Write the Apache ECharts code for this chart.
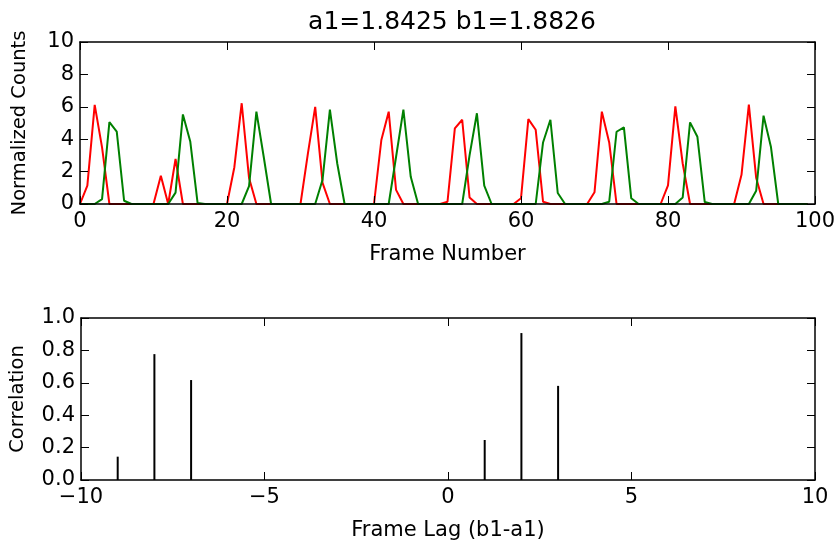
<!DOCTYPE html>
<html>
<head>
<meta charset="utf-8">
<script src="https://cdn.jsdelivr.net/npm/echarts@6/dist/echarts.min.js"></script>
<style>
html,body{margin:0;padding:0;background:#fff;}
#c{width:839px;height:546px;}
</style>
</head>
<body>
<div id="c"></div>
<script>
// ---- data ----
var titleText = 'a1=1.8425 b1=1.8826';
var redCounts = [
  0, 1.13, 6.12, 3.5, 0, 0, 0, 0, 0, 0,
  0, 1.75, 0, 2.78, 0, 0, 0, 0, 0, 0,
  0, 2.27, 6.22, 1.6, 0, 0, 0, 0, 0, 0,
  0, 3.1, 6.0, 1.3, 0, 0, 0, 0, 0, 0,
  0, 3.95, 5.7, 0.87, 0, 0, 0, 0, 0, 0,
  0.14, 4.67, 5.2, 0.4, 0, 0, 0, 0, 0, 0,
  0.35, 5.24, 4.58, 0.14, 0, 0, 0, 0, 0, 0,
  0.72, 5.7, 3.8, 0, 0, 0, 0, 0, 0, 0,
  1.15, 6.03, 2.5, 0, 0, 0, 0, 0, 0, 0,
  1.8, 6.13, 1.6, 0, 0, 0, 0, 0, 0, 0
];
var greenCounts = [
  0, 0, 0, 0.3, 5.05, 4.47, 0.2, 0, 0, 0,
  0, 0, 0, 0.7, 5.53, 3.86, 0.06, 0, 0, 0,
  0, 0, 0, 1.1, 5.7, 2.9, 0, 0, 0, 0,
  0, 0, 0, 1.5, 5.82, 2.5, 0, 0, 0, 0,
  0, 0, 0, 2.9, 5.82, 1.68, 0, 0, 0, 0,
  0, 0, 0, 3.0, 5.6, 1.13, 0, 0, 0, 0,
  0, 0, 0, 3.8, 5.2, 0.68, 0, 0, 0, 0,
  0, 0, 0.14, 4.46, 4.73, 0.35, 0, 0, 0, 0,
  0, 0, 0.4, 5.04, 4.15, 0.12, 0, 0, 0, 0,
  0, 0, 0.82, 5.45, 3.54, 0, 0, 0, 0, 0
];
var lags = [-9, -8, -7, 1, 2, 3];
var correlation = [0.144, 0.777, 0.617, 0.247, 0.907, 0.581];

var topXName = 'Frame Number';
var topYName = 'Normalized Counts';
var botXName = 'Frame Lag (b1-a1)';
var botYName = 'Correlation';

// ---- chart ----
var FONT = 'DejaVu Sans';
var FS = 21;
var FSY = 19.5;
function minusFmt(v){ return v < 0 ? '\u2212' + Math.abs(v) : String(v); }

function frameAxisX(gi, pos, min, max, itv, show, name, fmt){
  return {
    type: 'value', gridIndex: gi, position: pos, min: min, max: max, interval: itv,
    z: 10,
    axisLine: {show: true, onZero: false, lineStyle: {color: '#000', width: 1.5}},
    axisTick: {show: true, inside: true, length: 8, lineStyle: {color: '#000', width: 1}},
    axisLabel: {show: show, color: '#000', fontFamily: FONT, fontSize: FS, margin: 7, formatter: fmt},
    splitLine: {show: false},
    name: show ? name : '', nameLocation: 'middle', nameGap: 40,
    nameTextStyle: {color: '#000', fontFamily: FONT, fontSize: FS}
  };
}
function frameAxisY(gi, pos, min, max, itv, show, name, fmt, gap){
  return {
    type: 'value', gridIndex: gi, position: pos, min: min, max: max, interval: itv,
    z: 10,
    axisLine: {show: true, onZero: false, lineStyle: {color: '#000', width: 1.5}},
    axisTick: {show: true, inside: true, length: 8, lineStyle: {color: '#000', width: 1}},
    axisLabel: {show: show, color: '#000', fontFamily: FONT, fontSize: FS, margin: 6, formatter: fmt},
    splitLine: {show: false},
    name: show ? name : '', nameLocation: 'middle', nameGap: gap,
    nameTextStyle: {color: '#000', fontFamily: FONT, fontSize: FSY}
  };
}

var redData = redCounts.map(function(v, i){ return [i, v]; });
var greenData = greenCounts.map(function(v, i){ return [i, v]; });
var corrData = lags.map(function(l, i){ return [l, correlation[i]]; });

var chart = echarts.init(document.getElementById('c'), null, {renderer: 'canvas'});
chart.setOption({
  animation: false,
  backgroundColor: '#fff',
  title: {
    text: titleText, left: 447, top: 5, textAlign: 'center',
    textStyle: {color: '#000', fontFamily: FONT, fontSize: 25, fontWeight: 'normal'}
  },
  grid: [
    {left: 80, top: 42, width: 735, height: 162},
    {left: 80, top: 318, width: 735, height: 162}
  ],
  xAxis: [
    frameAxisX(0, 'bottom', 0, 100, 20, true, topXName, function(v){ return String(v); }),
    frameAxisX(0, 'top', 0, 100, 20, false, '', null),
    frameAxisX(1, 'bottom', -10, 10, 5, true, botXName, minusFmt),
    frameAxisX(1, 'top', -10, 10, 5, false, '', null)
  ],
  yAxis: [
    frameAxisY(0, 'left', 0, 10, 2, true, topYName, function(v){ return String(v); }, 50),
    frameAxisY(0, 'right', 0, 10, 2, false, '', null, 0),
    frameAxisY(1, 'left', 0, 1, 0.2, true, botYName, function(v){ return v.toFixed(1); }, 53),
    frameAxisY(1, 'right', 0, 1, 0.2, false, '', null, 0)
  ],
  series: [
    {
      type: 'line', xAxisIndex: 0, yAxisIndex: 0, data: redData,
      symbol: 'none', lineStyle: {color: '#ff0000', width: 2}, z: 3
    },
    {
      type: 'line', xAxisIndex: 0, yAxisIndex: 0, data: greenData,
      symbol: 'none', lineStyle: {color: '#008000', width: 2}, z: 3
    },
    {
      type: 'bar', xAxisIndex: 2, yAxisIndex: 2, data: corrData,
      barWidth: 2, itemStyle: {color: '#000'}, z: 3
    }
  ]
});
</script>
</body>
</html>
